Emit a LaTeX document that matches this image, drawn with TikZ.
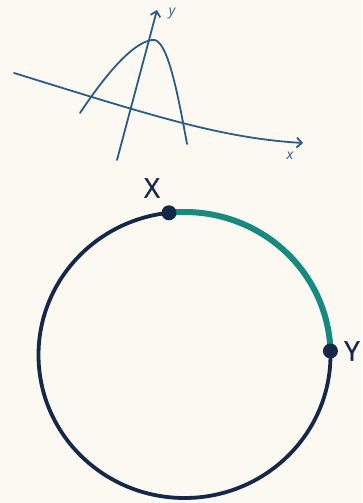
\documentclass[tikz,border=0pt]{standalone}
\usepackage{fontspec}
\setmainfont{Open Sans}
\usetikzlibrary{arrows.meta}
\definecolor{bg}{HTML}{FCF9F3}
\definecolor{navy}{HTML}{16284A}
\definecolor{tealc}{HTML}{17897E}
\definecolor{sketch}{HTML}{2C5C85}
\tikzset{
  sketchline/.style={draw=sketch, line width=1.8pt, line cap=round},
  sketcharrow/.style={sketchline, -{Straight Barb[length=5pt,width=10pt]}},
  axlabel/.style={text=sketch, font=\fontsize{14}{14}\selectfont\itshape, inner sep=0pt},
  circline/.style={draw=navy, line width=3.8pt},
  arcline/.style={draw=tealc, line width=6pt},
  dotnode/.style={circle, fill=navy, minimum size=15pt, inner sep=0pt},
  ptlabel/.style={text=navy, font=\fontsize{27}{27}\selectfont\addfontfeature{FakeBold=1.2}, inner sep=0pt}
}
\begin{document}
\begin{tikzpicture}[x=1pt,y=1pt]
\fill[bg] (0,0) rectangle (362,503);
\useasboundingbox (0,0) rectangle (362,503);
% sketch of graph (y' = 503 - y)
\coordinate (xa) at (14,430);
\coordinate (xb) at (303,360);
\coordinate (ya) at (117,343);
\coordinate (yb) at (157,493);
\coordinate (pl) at (80,390);
\coordinate (pk) at (152,463);
\coordinate (pr) at (187,359);
\draw[sketcharrow] (xa) .. controls (150,388) and (220,365) .. (xb);
\draw[sketcharrow] (ya) -- (yb);
\draw[sketchline] (pl) .. controls (100,420) and (130,460) .. (pk)
  .. controls (166,466) and (176,420) .. (pr);
\node[axlabel] (ylab) at (172,490) {y};
\node[axlabel] (xlab) at (290,347) {x};
% circle
\coordinate (c) at (184.5,148);
\draw[circline] (c) ellipse[x radius=146, y radius=143];
\path (c) ++(96.1:146 and 143) coordinate (X);
\path (c) ++(1.6:146 and 143) coordinate (Y);
\draw[arcline] (X) arc[start angle=96.1, end angle=1.6, x radius=146, y radius=143];
\node[dotnode] (Xd) at (X) {};
\node[dotnode] (Yd) at (Y) {};
\node[ptlabel] (Xl) at (152,315) {X};
\node[ptlabel] (Yl) at (352,152) {Y};
\end{tikzpicture}
\end{document}
